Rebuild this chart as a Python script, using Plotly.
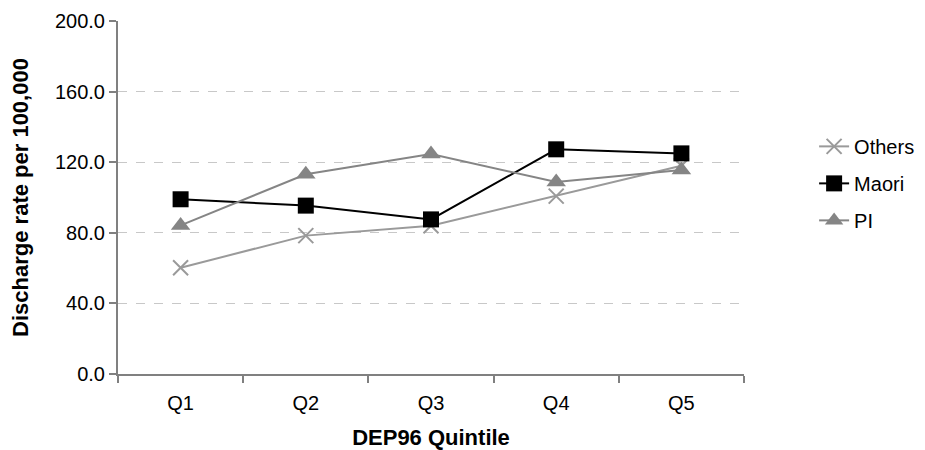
import plotly.graph_objects as go

categories = ["Q1", "Q2", "Q3", "Q4", "Q5"]
others = [60.2, 78.4, 84.0, 100.8, 118.0]
maori = [99.0, 95.4, 87.6, 127.3, 125.0]
pi = [84.2, 113.2, 124.6, 108.8, 115.6]
y_ticks = [0, 40, 80, 120, 160, 200]
y_tick_labels = ["0.0", "40.0", "80.0", "120.0", "160.0", "200.0"]

fig = go.Figure()
fig.add_trace(go.Scatter(
    x=categories, y=others, name="Others", mode="lines+markers", legendgroup="a",
    line=dict(color="#9a9a9a", width=2),
    marker=dict(symbol="x-thin-open", size=15, line=dict(color="#9a9a9a", width=2), color="#9a9a9a"),
))
fig.add_trace(go.Scatter(
    x=categories, y=maori, name="Maori", mode="lines+markers", legendgroup="b",
    line=dict(color="#000000", width=2),
    marker=dict(symbol="square", size=16, color="#000000"),
))
fig.add_trace(go.Scatter(
    x=categories, y=pi, name="PI", mode="lines+markers", legendgroup="c",
    line=dict(color="#858585", width=2),
    marker=dict(symbol="triangle-up", size=17, color="#858585"),
))

fig.update_layout(
    width=925, height=450,
    margin=dict(l=118, r=181, t=21, b=76, autoexpand=False),
    paper_bgcolor="white", plot_bgcolor="white",
    font=dict(family="Liberation Sans, Arial, sans-serif", size=20, color="#000000"),
    showlegend=True,
    legend=dict(x=1.112, xanchor="left", y=0.54, yanchor="middle",
                font=dict(size=20), itemsizing="trace", tracegroupgap=8,
                bgcolor="rgba(0,0,0,0)"),
    xaxis=dict(
        type="category", range=[-0.5, 4.5], automargin=False,
        showgrid=False, showline=True, linecolor="#808080", linewidth=2,
        ticks="outside", ticklen=7, tickcolor="#808080", tickwidth=1.5,
        tickson="boundaries", ticklabelstandoff=10,
        title=dict(text="<b>DEP96 Quintile</b>", font=dict(size=22), standoff=17),
        tickfont=dict(size=20),
    ),
    yaxis=dict(
        range=[0, 200], tickvals=y_ticks, ticktext=y_tick_labels, automargin=False,
        showgrid=True, gridcolor="#c8c8c8", griddash="dash", gridwidth=1,
        showline=True, linecolor="#808080", linewidth=2,
        ticks="outside", ticklen=7, tickcolor="#808080", tickwidth=1.5,
        zeroline=False,
        title=dict(text="<b>Discharge rate per 100,000</b>", font=dict(size=22), standoff=20),
        tickfont=dict(size=20),
    ),
)

fig.write_html("out.html")
